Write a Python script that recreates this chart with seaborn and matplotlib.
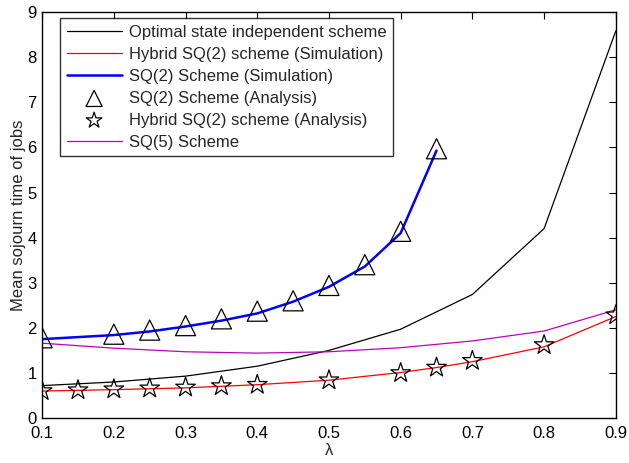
import numpy as np
import pandas as pd
import matplotlib
matplotlib.use("Agg")
import matplotlib.pyplot as plt
import seaborn as sns

# Values
lam_opt = [0.1, 0.2, 0.3, 0.4, 0.5, 0.6, 0.7, 0.8, 0.9]
opt_vals = [0.72, 0.80, 0.93, 1.15, 1.50, 1.97, 2.74, 4.20, 8.58]

lam_hyb_sim = [0.1, 0.2, 0.3, 0.4, 0.5, 0.6, 0.65, 0.7, 0.8, 0.9]
hyb_sim_vals = [0.60, 0.63, 0.67, 0.74, 0.84, 1.01, 1.12, 1.25, 1.58, 2.25]

lam_sq2_sim = [0.1, 0.2, 0.25, 0.3, 0.35, 0.4, 0.45, 0.5, 0.55, 0.6, 0.65]
sq2_sim_vals = [1.75, 1.84, 1.92, 2.03, 2.16, 2.32, 2.58, 2.91, 3.36, 4.10, 5.93]

lam_sq2_ana = [0.1, 0.2, 0.25, 0.3, 0.35, 0.4, 0.45, 0.5, 0.55, 0.6, 0.65]
sq2_ana_vals = [1.78, 1.86, 1.95, 2.05, 2.20, 2.37, 2.60, 2.94, 3.40, 4.14, 5.97]

lam_hyb_ana = [0.1, 0.15, 0.2, 0.25, 0.3, 0.35, 0.4, 0.5, 0.6, 0.65, 0.7, 0.8, 0.9]
hyb_ana_vals = [0.60, 0.62, 0.64, 0.66, 0.68, 0.71, 0.74, 0.84, 1.00, 1.12, 1.27, 1.62, 2.28]

lam_sq5 = [0.1, 0.2, 0.3, 0.4, 0.5, 0.6, 0.7, 0.8, 0.9]
sq5_vals = [1.66, 1.55, 1.47, 1.44, 1.47, 1.56, 1.71, 1.93, 2.40]

x_ticks = [0.1, 0.2, 0.3, 0.4, 0.5, 0.6, 0.7, 0.8, 0.9]
y_ticks = [0, 1, 2, 3, 4, 5, 6, 7, 8, 9]

sns.set_style("white")
plt.rcParams['font.family'] = ['Liberation Sans', 'DejaVu Sans']

fig = plt.figure(figsize=(6.29, 4.63), dpi=100)
ax = fig.add_axes([0.067, 0.097, 0.912, 0.877])

sns.lineplot(x=lam_opt, y=opt_vals, ax=ax, color='black', lw=0.9,
             label='Optimal state independent scheme')
sns.lineplot(x=lam_hyb_sim, y=hyb_sim_vals, ax=ax, color='red', lw=0.9,
             label='Hybrid SQ(2) scheme (Simulation)')
sns.lineplot(x=lam_sq2_sim, y=sq2_sim_vals, ax=ax, color='blue', lw=1.8,
             label='SQ(2) Scheme (Simulation)')
sns.scatterplot(x=lam_sq2_ana, y=sq2_ana_vals, ax=ax, marker='^', s=210,
                facecolor='none', edgecolor='black', linewidth=0.9,
                label='SQ(2) Scheme (Analysis)', zorder=3)
sns.scatterplot(x=lam_hyb_ana, y=hyb_ana_vals, ax=ax, marker='*', s=220,
                facecolor='none', edgecolor='black', linewidth=0.9,
                label='Hybrid SQ(2) scheme (Analysis)', zorder=3)
sns.lineplot(x=lam_sq5, y=sq5_vals, ax=ax, color='#c000c0', lw=0.9,
             label='SQ(5) Scheme')

ax.set_xlim(0.1, 0.9)
ax.set_ylim(0, 9)
ax.set_xticks(x_ticks)
ax.set_xticklabels([f"{t:g}" for t in x_ticks])
ax.set_yticks(y_ticks)
ax.tick_params(direction='in', top=True, right=True, length=5, width=0.8,
               labelsize=12, colors='black')
ax.tick_params(axis='x', pad=6)
ax.tick_params(axis='y', pad=4)
for sp in ax.spines.values():
    sp.set_color('black')
    sp.set_linewidth(1.0)

ax.set_xlabel('λ', fontsize=12, labelpad=1)
ax.set_ylabel('Mean sojourn time of jobs', fontsize=12, labelpad=1)

leg = ax.legend(loc='upper left', bbox_to_anchor=(0.031, 0.985), fontsize=12,
                frameon=True, fancybox=False, edgecolor='black',
                borderpad=0.4, labelspacing=0.42, handlelength=3.3,
                handletextpad=0.45, borderaxespad=0.0, markerscale=0.8)
leg.get_frame().set_linewidth(1.0)

fig.savefig('out.png', dpi=100)
